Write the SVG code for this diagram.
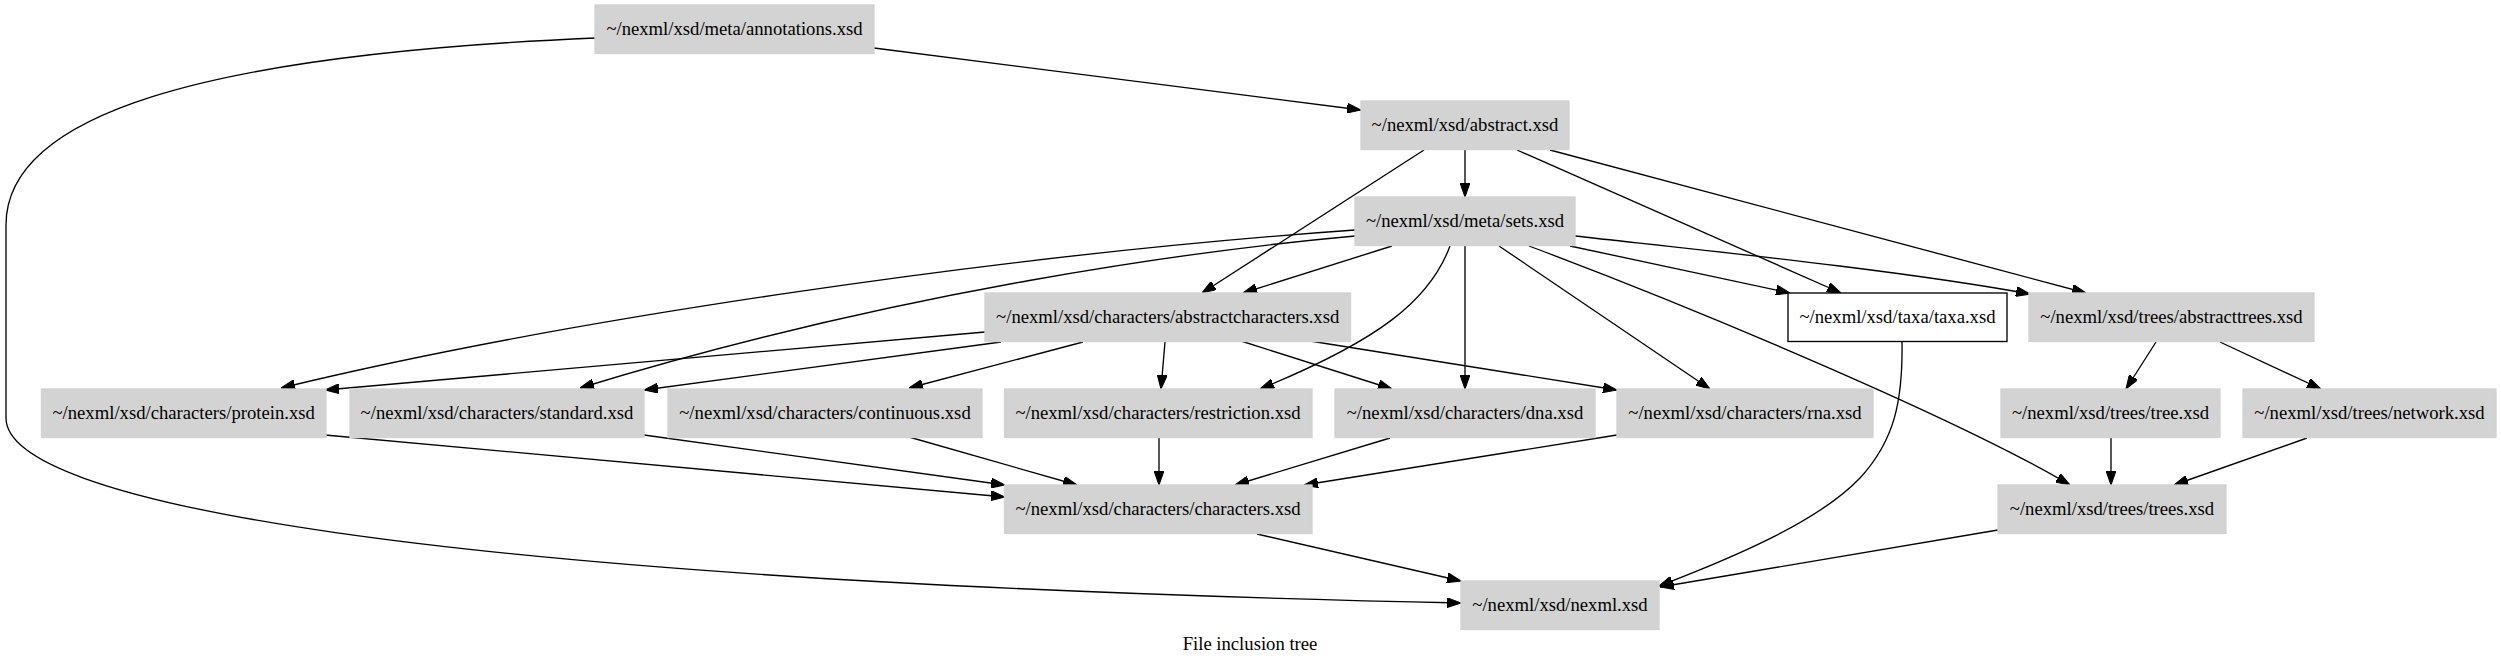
<svg xmlns="http://www.w3.org/2000/svg" width="2501" height="664" viewBox="0 0 2501 664">
<style>
.n rect{fill:#d3d3d3;stroke:#d3d3d3;stroke-width:1.33}
.n.w rect{fill:#ffffff;stroke:#000000}
text{font-family:"Liberation Serif","Times New Roman",serif;font-size:18.67px;text-anchor:middle;fill:#000}
#edges path{fill:none;stroke:#000;stroke-width:1.33;marker-end:url(#arr)}
</style>
<defs>
<marker id="arr" markerUnits="userSpaceOnUse" markerWidth="14" markerHeight="10" viewBox="0 0 13.3 9.34" refX="13.3" refY="4.67" orient="auto">
<path d="M0,0 L13.3,4.67 L0,9.34 z" fill="#000" stroke="#000" stroke-width="1"/>
</marker>
</defs>
<rect width="2501" height="664" fill="#ffffff"/>
<g id="edges">
<path d="M874,48 L1361,110"/>
<path d="M595,38 C200,55 6,115 6,225 L6,418 C6,500 400,580 1461,603"/>
<path d="M1465,150 L1465,197"/>
<path d="M1424,150 L1202,293"/>
<path d="M1517,150 L1841,293"/>
<path d="M1550,150 L2086,293"/>
<path d="M1392,246 L1243,293"/>
<path d="M1355,230 C1000,255 560,320 281,388"/>
<path d="M1355,236 C1200,250 900,290 580,388"/>
<path d="M1450,246 C1430,300 1380,340 1260,389"/>
<path d="M1465,246 L1465,389"/>
<path d="M1499,246 L1710,389"/>
<path d="M1570,246 L1790,293"/>
<path d="M1575,236 C1700,250 1900,270 2030,294"/>
<path d="M1529,246 C1700,310 1960,420 2070,485"/>
<path d="M985,332 L325,390"/>
<path d="M1001,342 L644,390"/>
<path d="M1083,342 L909,388"/>
<path d="M1165,342 L1161,389"/>
<path d="M1241,341 L1392,389"/>
<path d="M1310,341 L1617,390"/>
<path d="M325,435 L1005,497"/>
<path d="M644,435 L1005,485"/>
<path d="M909,437 L1077,485"/>
<path d="M1159,438 L1159,485"/>
<path d="M1390,438 L1235,485"/>
<path d="M1617,435 L1304,485"/>
<path d="M1902,341 C1903,400 1895,440 1860,478 C1820,520 1740,555 1659,586"/>
<path d="M2156,342 L2126,389"/>
<path d="M2220,342 L2321,389"/>
<path d="M2111,438 L2111,485"/>
<path d="M2307,438 L2174,485"/>
<path d="M1257,534 L1461,581"/>
<path d="M1998,530 L1660,587"/>
</g>
<g id="annotations" class="n"><rect x="595" y="5" width="279" height="48.5"/><text x="734.5" y="35">~/nexml/xsd/meta/annotations.xsd</text></g>
<g id="abstract" class="n"><rect x="1361" y="101" width="208" height="48.5"/><text x="1465" y="131">~/nexml/xsd/abstract.xsd</text></g>
<g id="sets" class="n"><rect x="1355" y="197" width="220" height="48.5"/><text x="1465" y="227">~/nexml/xsd/meta/sets.xsd</text></g>
<g id="abstractcharacters" class="n"><rect x="985" y="293" width="365.5" height="48.5"/><text x="1167.7" y="323">~/nexml/xsd/characters/abstractcharacters.xsd</text></g>
<g id="taxa" class="n w"><rect x="1788" y="293" width="219" height="48.5"/><text x="1897.5" y="323">~/nexml/xsd/taxa/taxa.xsd</text></g>
<g id="abstracttrees" class="n"><rect x="2029" y="293" width="285" height="48.5"/><text x="2171.5" y="323">~/nexml/xsd/trees/abstracttrees.xsd</text></g>
<g id="protein" class="n"><rect x="41.5" y="389" width="284.5" height="48.5"/><text x="183.7" y="419">~/nexml/xsd/characters/protein.xsd</text></g>
<g id="standard" class="n"><rect x="350" y="389" width="294" height="48.5"/><text x="497" y="419">~/nexml/xsd/characters/standard.xsd</text></g>
<g id="continuous" class="n"><rect x="668" y="389" width="314" height="48.5"/><text x="825" y="419">~/nexml/xsd/characters/continuous.xsd</text></g>
<g id="restriction" class="n"><rect x="1004.5" y="389" width="307.5" height="48.5"/><text x="1158" y="419">~/nexml/xsd/characters/restriction.xsd</text></g>
<g id="dna" class="n"><rect x="1335" y="389" width="260" height="48.5"/><text x="1465" y="419">~/nexml/xsd/characters/dna.xsd</text></g>
<g id="rna" class="n"><rect x="1617" y="389" width="256" height="48.5"/><text x="1745" y="419">~/nexml/xsd/characters/rna.xsd</text></g>
<g id="tree" class="n"><rect x="2001" y="389" width="219" height="48.5"/><text x="2110.5" y="419">~/nexml/xsd/trees/tree.xsd</text></g>
<g id="network" class="n"><rect x="2243" y="389" width="253" height="48.5"/><text x="2369.5" y="419">~/nexml/xsd/trees/network.xsd</text></g>
<g id="characters" class="n"><rect x="1004.5" y="485" width="307.5" height="48.5"/><text x="1158" y="515">~/nexml/xsd/characters/characters.xsd</text></g>
<g id="trees" class="n"><rect x="1998" y="485" width="228" height="48.5"/><text x="2112" y="515">~/nexml/xsd/trees/trees.xsd</text></g>
<g id="nexml" class="n"><rect x="1461" y="581" width="198" height="48.5"/><text x="1560" y="611">~/nexml/xsd/nexml.xsd</text></g>
<text x="1250" y="650">File inclusion tree</text>
</svg>
